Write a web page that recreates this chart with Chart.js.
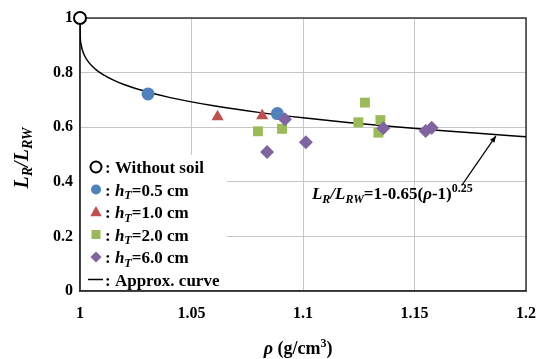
<!DOCTYPE html>
<html>
<head>
<meta charset="utf-8">
<script src="https://cdn.jsdelivr.net/npm/chart.js@4.4.0/dist/chart.umd.min.js"></script>
<style>
  body { margin: 0; background: #fff; }
  #wrap { width: 537px; height: 359px; position: relative; }
</style>
</head>
<body>
<div id="wrap"><canvas id="chart"></canvas></div>
<script>
// tick labels
const xTickLabels = ['1', '1.05', '1.1', '1.15', '1.2'];
const yTickLabels = ['0', '0.2', '0.4', '0.6', '0.8', '1'];

// measured points (rho, LR/LRW)
const withoutSoilX = [1.0];
const withoutSoilY = [1.0];
const h05X = [1.0305, 1.0885];
const h05Y = [0.722, 0.650];
const h10X = [1.0617, 1.0817];
const h10Y = [0.638, 0.642];
const h20X = [1.0798, 1.0906, 1.1248, 1.1278, 1.1347, 1.1338];
const h20Y = [0.585, 0.594, 0.618, 0.690, 0.626, 0.580];
const h60X = [1.0839, 1.0919, 1.1013, 1.1360, 1.1550, 1.1577];
const h60Y = [0.509, 0.629, 0.545, 0.596, 0.586, 0.598];

// approx. curve
const curveX = [1.0, 1.0001, 1.0005, 1.001, 1.002, 1.004, 1.007, 1.01, 1.015, 1.02, 1.03, 1.04, 1.06, 1.08, 1.10, 1.12, 1.14, 1.16, 1.18, 1.20];
const curveY = [1.0, 0.935, 0.903, 0.884, 0.8625, 0.8365, 0.812, 0.7945, 0.7725, 0.7556, 0.7295, 0.7093, 0.6783, 0.6543, 0.6345, 0.6174, 0.6024, 0.5889, 0.5766, 0.5653];

// arrow + equation anchors (data coords)
const arrowTip = [1.1865, 0.568];
const arrowTail = [1.1713, 0.388];
const eqAnchor = [1.104, 0.337];

const pts = (xs, ys) => xs.map((x, i) => ({ x: x, y: ys[i] }));

const FONT = '"Liberation Serif", "Times New Roman", serif';

function drawRich(ctx, parts, x, y, size, align) {
  const subSize = Math.round(size * 0.68);
  const fontOf = p => (p.it ? 'italic ' : '') + 'bold ' + ((p.sub || p.sup) ? subSize : size) + 'px ' + FONT;
  let total = 0;
  parts.forEach(p => { ctx.font = fontOf(p); p.w = ctx.measureText(p.t).width; total += p.w; });
  let cx = align === 'center' ? x - total / 2 : x;
  ctx.textAlign = 'left';
  ctx.textBaseline = 'alphabetic';
  parts.forEach(p => {
    ctx.font = fontOf(p);
    let dy = 0;
    if (p.sub) dy = size * 0.22;
    if (p.sup) dy = -size * 0.4;
    ctx.fillText(p.t, cx, y + dy);
    cx += p.w;
  });
}

function marker(ctx, style, x, y, r, fill, stroke, lw) {
  ctx.save();
  ctx.beginPath();
  if (style === 'circle') {
    ctx.arc(x, y, r, 0, Math.PI * 2);
  } else if (style === 'triangle') {
    ctx.moveTo(x, y - r);
    ctx.lineTo(x + r * 0.95, y + r * 0.7);
    ctx.lineTo(x - r * 0.95, y + r * 0.7);
    ctx.closePath();
  } else if (style === 'rect') {
    ctx.rect(x - r * 0.9, y - r * 0.9, r * 1.8, r * 1.8);
  } else if (style === 'rectRot') {
    ctx.moveTo(x, y - r); ctx.lineTo(x + r, y); ctx.lineTo(x, y + r); ctx.lineTo(x - r, y);
    ctx.closePath();
  }
  ctx.fillStyle = fill;
  ctx.fill();
  if (stroke) { ctx.strokeStyle = stroke; ctx.lineWidth = lw; ctx.stroke(); }
  ctx.restore();
}

const hT = v => [{ t: ': ' }, { t: 'h', it: true }, { t: 'T', it: true, sub: true }, { t: '=' + v + ' cm' }];

const legendRows = [
  { style: 'circle', r: 5.5, fill: '#fff', stroke: '#000', lw: 2, parts: [{ t: ': Without soil' }] },
  { style: 'circle', r: 5, fill: '#4f81bd', parts: hT('0.5') },
  { style: 'triangle', r: 6, fill: '#c0504d', parts: hT('1.0') },
  { style: 'rect', r: 5, fill: '#9bbb59', parts: hT('2.0') },
  { style: 'rectRot', r: 5.5, fill: '#8064a2', parts: hT('6.0') },
  { style: 'line', parts: [{ t: ': Approx. curve' }] }
];

const overlay = {
  id: 'overlay',
  beforeDatasetsDraw(chart) {
    const ctx = chart.ctx;
    const a = chart.chartArea;
    ctx.save();
    // legend box
    ctx.fillStyle = '#fff';
    ctx.fillRect(a.left + 1, a.bottom - 136, 146, 135);
    ctx.fillStyle = '#000';
    legendRows.forEach((row, i) => {
      const y = a.bottom - 124 + i * 22.5;
      const mx = a.left + 16;
      if (row.style === 'line') {
        ctx.strokeStyle = '#000';
        ctx.lineWidth = 1.5;
        ctx.beginPath(); ctx.moveTo(mx - 8, y); ctx.lineTo(mx + 7, y); ctx.stroke();
      } else {
        marker(ctx, row.style, mx, y, row.r, row.fill, row.stroke, row.lw);
      }
      ctx.fillStyle = '#000';
      drawRich(ctx, row.parts, a.left + 25, y + 6, 17, 'left');
    });
    // plot frame
    ctx.strokeStyle = '#333';
    ctx.lineWidth = 1.5;
    ctx.strokeRect(a.left, a.top, a.right - a.left, a.bottom - a.top);
    ctx.restore();
  },
  afterDraw(chart) {
    const ctx = chart.ctx;
    const xs = chart.scales.x, ys = chart.scales.y;
    ctx.save();
    ctx.fillStyle = '#000';
    // equation
    drawRich(ctx, [
      { t: 'L', it: true }, { t: 'R', it: true, sub: true }, { t: '/', it: true },
      { t: 'L', it: true }, { t: 'RW', it: true, sub: true },
      { t: '=1-0.65(' }, { t: 'ρ', it: true }, { t: '-1)' }, { t: '0.25', sup: true }
    ], xs.getPixelForValue(eqAnchor[0]), ys.getPixelForValue(eqAnchor[1]), 17, 'left');
    // arrow
    const tx = xs.getPixelForValue(arrowTip[0]), ty = ys.getPixelForValue(arrowTip[1]);
    const sx = xs.getPixelForValue(arrowTail[0]), sy = ys.getPixelForValue(arrowTail[1]);
    ctx.strokeStyle = '#000';
    ctx.lineWidth = 1.2;
    ctx.beginPath(); ctx.moveTo(sx, sy); ctx.lineTo(tx, ty); ctx.stroke();
    const ang = Math.atan2(ty - sy, tx - sx);
    ctx.beginPath();
    ctx.moveTo(tx, ty);
    ctx.lineTo(tx - 7 * Math.cos(ang - 0.4), ty - 7 * Math.sin(ang - 0.4));
    ctx.lineTo(tx - 7 * Math.cos(ang + 0.4), ty - 7 * Math.sin(ang + 0.4));
    ctx.closePath();
    ctx.fill();
    // x title
    drawRich(ctx, [{ t: 'ρ', it: true }, { t: ' (g/cm' }, { t: '3', sup: true }, { t: ')' }],
      298, 354, 18, 'center');
    // y title
    ctx.translate(28, 158);
    ctx.rotate(-Math.PI / 2);
    drawRich(ctx, [
      { t: 'L', it: true }, { t: 'R', it: true, sub: true }, { t: '/', it: true },
      { t: 'L', it: true }, { t: 'RW', it: true, sub: true }
    ], 0, 0, 20, 'center');
    ctx.restore();
  }
};

new Chart(document.getElementById('chart'), {
  type: 'scatter',
  data: {
    datasets: [
      { label: 'Without soil', data: pts(withoutSoilX, withoutSoilY), order: 0, clip: false,
        pointStyle: 'circle', pointRadius: 6, backgroundColor: '#fff', borderColor: '#000', borderWidth: 2 },
      { label: 'hT=6.0 cm', data: pts(h60X, h60Y), order: 1,
        pointStyle: 'rectRot', pointRadius: 7, backgroundColor: '#8064a2', borderWidth: 0 },
      { label: 'hT=2.0 cm', data: pts(h20X, h20Y), order: 2,
        pointStyle: 'rect', pointRadius: 7, backgroundColor: '#9bbb59', borderWidth: 0 },
      { label: 'hT=1.0 cm', data: pts(h10X, h10Y), order: 3,
        pointStyle: 'triangle', pointRadius: 7, backgroundColor: '#c0504d', borderWidth: 0 },
      { label: 'hT=0.5 cm', data: pts(h05X, h05Y), order: 4,
        pointStyle: 'circle', pointRadius: 6.5, backgroundColor: '#4f81bd', borderWidth: 0 },
      { label: 'Approx. curve', data: pts(curveX, curveY), order: 5, type: 'line',
        showLine: true, pointRadius: 0, borderColor: '#000', borderWidth: 1.5,
        cubicInterpolationMode: 'monotone', fill: false }
    ]
  },
  options: {
    responsive: true,
    maintainAspectRatio: false,
    animation: false,
    layout: { padding: { top: 18, right: 11, left: 0, bottom: 0 } },
    plugins: { legend: { display: false }, tooltip: { enabled: false } },
    scales: {
      x: {
        type: 'linear', min: 1, max: 1.2,
        afterFit: s => { s.height = 68; s.paddingRight = 0; s.paddingLeft = 0; },
        ticks: { stepSize: 0.05, padding: 13, color: '#000',
          font: { family: FONT, size: 16, weight: 'bold' },
          callback: (v, i) => xTickLabels[i] },
        grid: { color: '#c6c6c6', lineWidth: 1, drawTicks: false },
        border: { color: '#333', width: 1.5 }
      },
      y: {
        min: 0, max: 1,
        afterFit: s => { s.width = 80; s.paddingTop = 0; s.paddingBottom = 0; },
        ticks: { stepSize: 0.2, padding: 7, color: '#000',
          font: { family: FONT, size: 16, weight: 'bold' },
          callback: (v, i) => yTickLabels[i] },
        grid: { color: '#c6c6c6', lineWidth: 1, drawTicks: false },
        border: { color: '#333', width: 1.5 }
      }
    }
  },
  plugins: [overlay]
});
</script>
</body>
</html>
